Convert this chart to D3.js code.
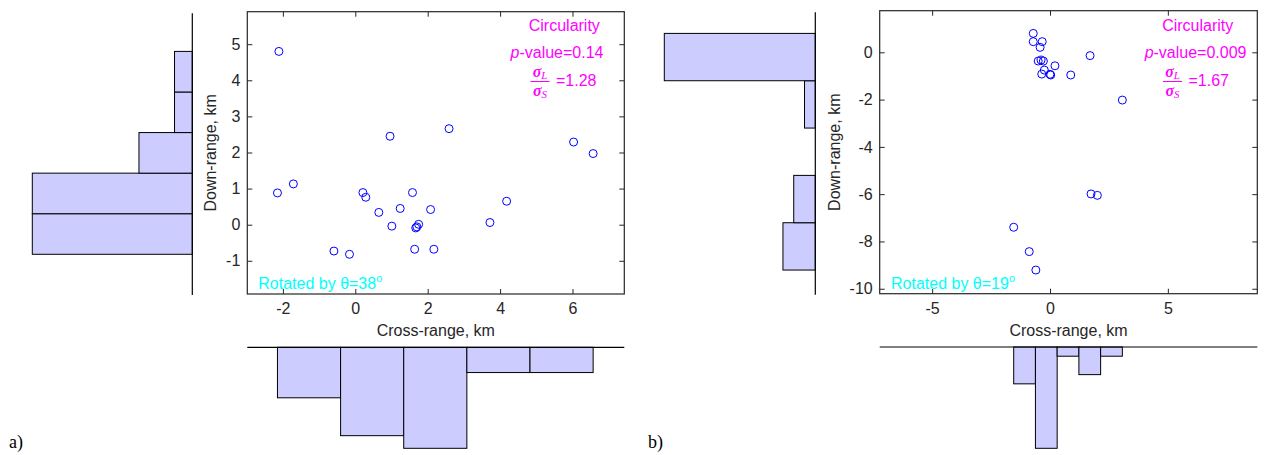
<!DOCTYPE html>
<html>
<head>
<meta charset="utf-8">
<script src="https://cdn.jsdelivr.net/npm/d3@7"></script>
<style>
  html, body { margin: 0; padding: 0; background: #fff; }
  svg { display: block; }
  text { font-family: "Liberation Sans", Arial, sans-serif; }
</style>
</head>
<body>
<svg id="chart" width="1267" height="455"></svg>
<script>
// ---------------- DATA ----------------
// Panel a) rotated by 38°
const aCross = [-2.11, -2.15, -1.71, -0.59, -0.16, 0.21, 0.29, 0.65, 0.96, 1.01, 1.24, 1.58, 1.64, 1.67, 1.75, 2.08, 2.17, 2.59, 3.72, 4.18, 6.03, 6.57, 1.70];
const aDown  = [4.80, 0.88, 1.13, -0.73, -0.82, 0.89, 0.76, 0.34, 2.45, -0.04, 0.45, 0.89, -0.68, -0.09, 0.01, 0.42, -0.68, 2.66, 0.06, 0.65, 2.29, 1.97, -0.06];
const aDownCounts  = [9, 9, 3, 1, 1];   // histogram of down-range (low -> high)
const aCrossCounts = [4, 7, 8, 2, 2];   // histogram of cross-range (low -> high)
const aXTicks = [-2, 0, 2, 4, 6];
const aYTicks = [-1, 0, 1, 2, 3, 4, 5];
const aAngle = "38";
const aPValue = "0.14";
const aRatio = "1.28";

// Panel b) rotated by 19°
const bCross = [-0.71, -0.71, -0.33, -0.42, -0.50, -0.28, -0.38, 0.21, -0.24, -0.35, 0.03, 0.00, 0.88, 1.70, 3.07, 1.74, 2.01, -1.54, -0.88, -0.60];
const bDown  = [0.80, 0.45, 0.45, 0.21, -0.37, -0.37, -0.33, -0.57, -0.75, -0.92, -0.96, -0.93, -0.96, -0.14, -2.02, -5.99, -6.05, -7.40, -8.43, -9.21];
const bDownCounts  = [3, 2, 0, 1, 14];
const bCrossCounts = [4, 11, 1, 3, 1];
const bXTicks = [-5, 0, 5];
const bYTicks = [-10, -8, -6, -4, -2, 0];
const bAngle = "19";
const bPValue = "0.009";
const bRatio = "1.67";

const xLabel = "Cross-range, km";
const yLabel = "Down-range, km";

// ---------------- DRAW ----------------
const svg = d3.select("#chart");
svg.append("rect").attr("width", 1267).attr("height", 455).attr("fill", "#fff");

const AX = "#262626";
const BAR_FILL = "#ccccff";
const MAG = "#ff00ff";
const CYAN = "#00ffff";

function panel(cfg) {
  const g = svg.append("g");
  const x = d3.scaleLinear().domain(cfg.xDom).range([cfg.L, cfg.R]);
  const y = d3.scaleLinear().domain(cfg.yDom).range([cfg.B, cfg.T]);
  const pts = cfg.cross.map((c, i) => ({ x: c, y: cfg.down[i] }));

  // ---- vertical histogram (down-range) on the left ----
  const yExt = d3.extent(cfg.down);
  const nY = cfg.downCounts.length;
  const yEdges = d3.range(nY + 1).map(i => yExt[0] + (yExt[1] - yExt[0]) * i / nY);
  const hx = d3.scaleLinear().domain([0, d3.max(cfg.downCounts)]).range([cfg.vhBase, cfg.vhBase - cfg.vhLen]);
  g.append("g").selectAll("rect").data(cfg.downCounts).join("rect")
    .attr("x", d => hx(d))
    .attr("width", d => cfg.vhBase - hx(d))
    .attr("y", (d, i) => y(yEdges[i + 1]))
    .attr("height", (d, i) => y(yEdges[i]) - y(yEdges[i + 1]))
    .attr("fill", BAR_FILL)
    .attr("stroke", d => d > 0 ? "#000" : "none")
    .attr("stroke-width", 1);
  g.append("line").attr("x1", cfg.vhBase).attr("x2", cfg.vhBase)
    .attr("y1", cfg.T + 1.5).attr("y2", cfg.B + 1).attr("stroke", "#000").attr("stroke-width", 1.2);

  // ---- horizontal histogram (cross-range) below ----
  const xExt = d3.extent(cfg.cross);
  const nX = cfg.crossCounts.length;
  const xEdges = d3.range(nX + 1).map(i => xExt[0] + (xExt[1] - xExt[0]) * i / nX);
  const hy = d3.scaleLinear().domain([0, d3.max(cfg.crossCounts)]).range([cfg.hhBase, cfg.hhBase + cfg.hhLen]);
  g.append("g").selectAll("rect").data(cfg.crossCounts).join("rect")
    .attr("x", (d, i) => x(xEdges[i]))
    .attr("width", (d, i) => x(xEdges[i + 1]) - x(xEdges[i]))
    .attr("y", cfg.hhBase)
    .attr("height", d => hy(d) - cfg.hhBase)
    .attr("fill", BAR_FILL)
    .attr("stroke", d => d > 0 ? "#000" : "none")
    .attr("stroke-width", 1);
  g.append("line").attr("x1", cfg.L).attr("x2", cfg.R)
    .attr("y1", cfg.hhBase).attr("y2", cfg.hhBase).attr("stroke", "#000").attr("stroke-width", 1.2);

  // ---- scatter axes ----
  const tl = 5;
  const axB = d3.axisBottom(x).tickValues(cfg.xTicks).tickSizeInner(-tl).tickSizeOuter(0).tickPadding(9);
  const axT = d3.axisTop(x).tickValues(cfg.xTicks).tickSizeInner(-tl).tickSizeOuter(0).tickFormat("");
  const axL = d3.axisLeft(y).tickValues(cfg.yTicks).tickSizeInner(-tl).tickSizeOuter(0).tickPadding(7);
  const axR = d3.axisRight(y).tickValues(cfg.yTicks).tickSizeInner(-tl).tickSizeOuter(0).tickFormat("");
  const fmt = d => (d < 0 ? "-" + Math.abs(d) : String(d));
  axB.tickFormat(fmt); axL.tickFormat(fmt);

  function styleAxis(sel) {
    sel.select(".domain").remove();
    sel.selectAll("line").attr("stroke", AX);
    sel.selectAll("text").attr("fill", AX).style("font-size", "16px")
      .style("font-family", '"Liberation Sans", Arial, sans-serif');
  }
  g.append("g").attr("transform", `translate(0,${cfg.B})`).call(axB).call(styleAxis);
  g.append("g").attr("transform", `translate(0,${cfg.T})`).call(axT).call(styleAxis);
  g.append("g").attr("transform", `translate(${cfg.L},0)`).call(axL).call(styleAxis);
  g.append("g").attr("transform", `translate(${cfg.R},0)`).call(axR).call(styleAxis);

  g.append("rect").attr("x", cfg.L).attr("y", cfg.T)
    .attr("width", cfg.R - cfg.L).attr("height", cfg.B - cfg.T)
    .attr("fill", "none").attr("stroke", AX).attr("stroke-width", 1.2);

  // points
  g.append("g").selectAll("circle").data(pts).join("circle")
    .attr("cx", d => x(d.x)).attr("cy", d => y(d.y)).attr("r", 4)
    .attr("fill", "none").attr("stroke", "#0000ff").attr("stroke-width", 1);

  // axis labels
  g.append("text").attr("x", (cfg.L + cfg.R) / 2).attr("y", cfg.B + 42)
    .attr("text-anchor", "middle").attr("fill", AX).style("font-size", "16px").text(xLabel);
  g.append("text")
    .attr("transform", `translate(${cfg.yLabX},${(cfg.T + cfg.B) / 2}) rotate(-90)`)
    .attr("text-anchor", "middle").attr("fill", AX).style("font-size", "16px").text(yLabel);

  // annotations
  g.append("text").attr("x", cfg.circX).attr("y", 30.5).attr("text-anchor", "middle")
    .attr("fill", MAG).style("font-size", "16px").text("Circularity");
  const pv = g.append("text").attr("x", cfg.pvR).attr("y", 57.5).attr("text-anchor", "end")
    .attr("fill", MAG).style("font-size", "16px");
  pv.append("tspan").style("font-style", "italic").text("p");
  pv.append("tspan").text("-value=" + cfg.pValue);

  const fx = cfg.fracX;
  const sig = (yy, sub) => {
    const t = g.append("text").attr("x", fx).attr("y", yy).attr("text-anchor", "middle")
      .attr("fill", MAG).style("font-family", '"Liberation Serif", "Times New Roman", serif');
    t.append("tspan").style("font-size", "16px").style("font-weight", "bold").style("font-style", "italic").text("σ");
    t.append("tspan").attr("dy", 2).style("font-size", "11px").style("font-style", "italic").text(sub);
  };
  sig(77, "L");
  g.append("line").attr("x1", fx - 9.5).attr("x2", fx + 9.5).attr("y1", 81.5).attr("y2", 81.5)
    .attr("stroke", MAG).attr("stroke-width", 1);
  sig(96, "S");
  g.append("text").attr("x", fx + 16).attr("y", 85.5).attr("fill", MAG)
    .style("font-size", "16px").text("=" + cfg.ratio);

  const rt = g.append("text").attr("x", cfg.rotX).attr("y", 288.5).attr("fill", CYAN).style("font-size", "16px");
  rt.append("tspan").text("Rotated by θ=" + cfg.angle);
  rt.append("tspan").attr("dy", -7).style("font-size", "11px").text("o");
}

panel({
  cross: aCross, down: aDown, downCounts: aDownCounts, crossCounts: aCrossCounts,
  xTicks: aXTicks, yTicks: aYTicks, angle: aAngle, pValue: aPValue, ratio: aRatio,
  xDom: [-2.983, 7.431], yDom: [-1.92, 5.90],
  L: 247.3, R: 624.3, T: 11.7, B: 294,
  vhBase: 192.3, vhLen: 160, hhBase: 347.3, hhLen: 101,
  yLabX: 216, circX: 564.3, pvR: 603.5, fracX: 540, rotX: 258.3
});

panel({
  cross: bCross, down: bDown, downCounts: bDownCounts, crossCounts: bCrossCounts,
  xTicks: bXTicks, yTicks: bYTicks, angle: bAngle, pValue: bPValue, ratio: bRatio,
  xDom: [-7.225, 8.795], yDom: [-10.21, 1.76],
  L: 879.7, R: 1257.3, T: 10.7, B: 293.7,
  vhBase: 815.3, vhLen: 151, hhBase: 347, hhLen: 101.3,
  yLabX: 839.5, circX: 1197.7, pvR: 1246.5, fracX: 1172.5, rotX: 891
});

// panel letters
svg.append("text").attr("x", 9).attr("y", 448).attr("fill", "#000")
  .style("font-family", '"Liberation Serif", "Times New Roman", serif').style("font-size", "18px").text("a)");
svg.append("text").attr("x", 648).attr("y", 448).attr("fill", "#000")
  .style("font-family", '"Liberation Serif", "Times New Roman", serif').style("font-size", "18px").text("b)");
</script>
</body>
</html>
